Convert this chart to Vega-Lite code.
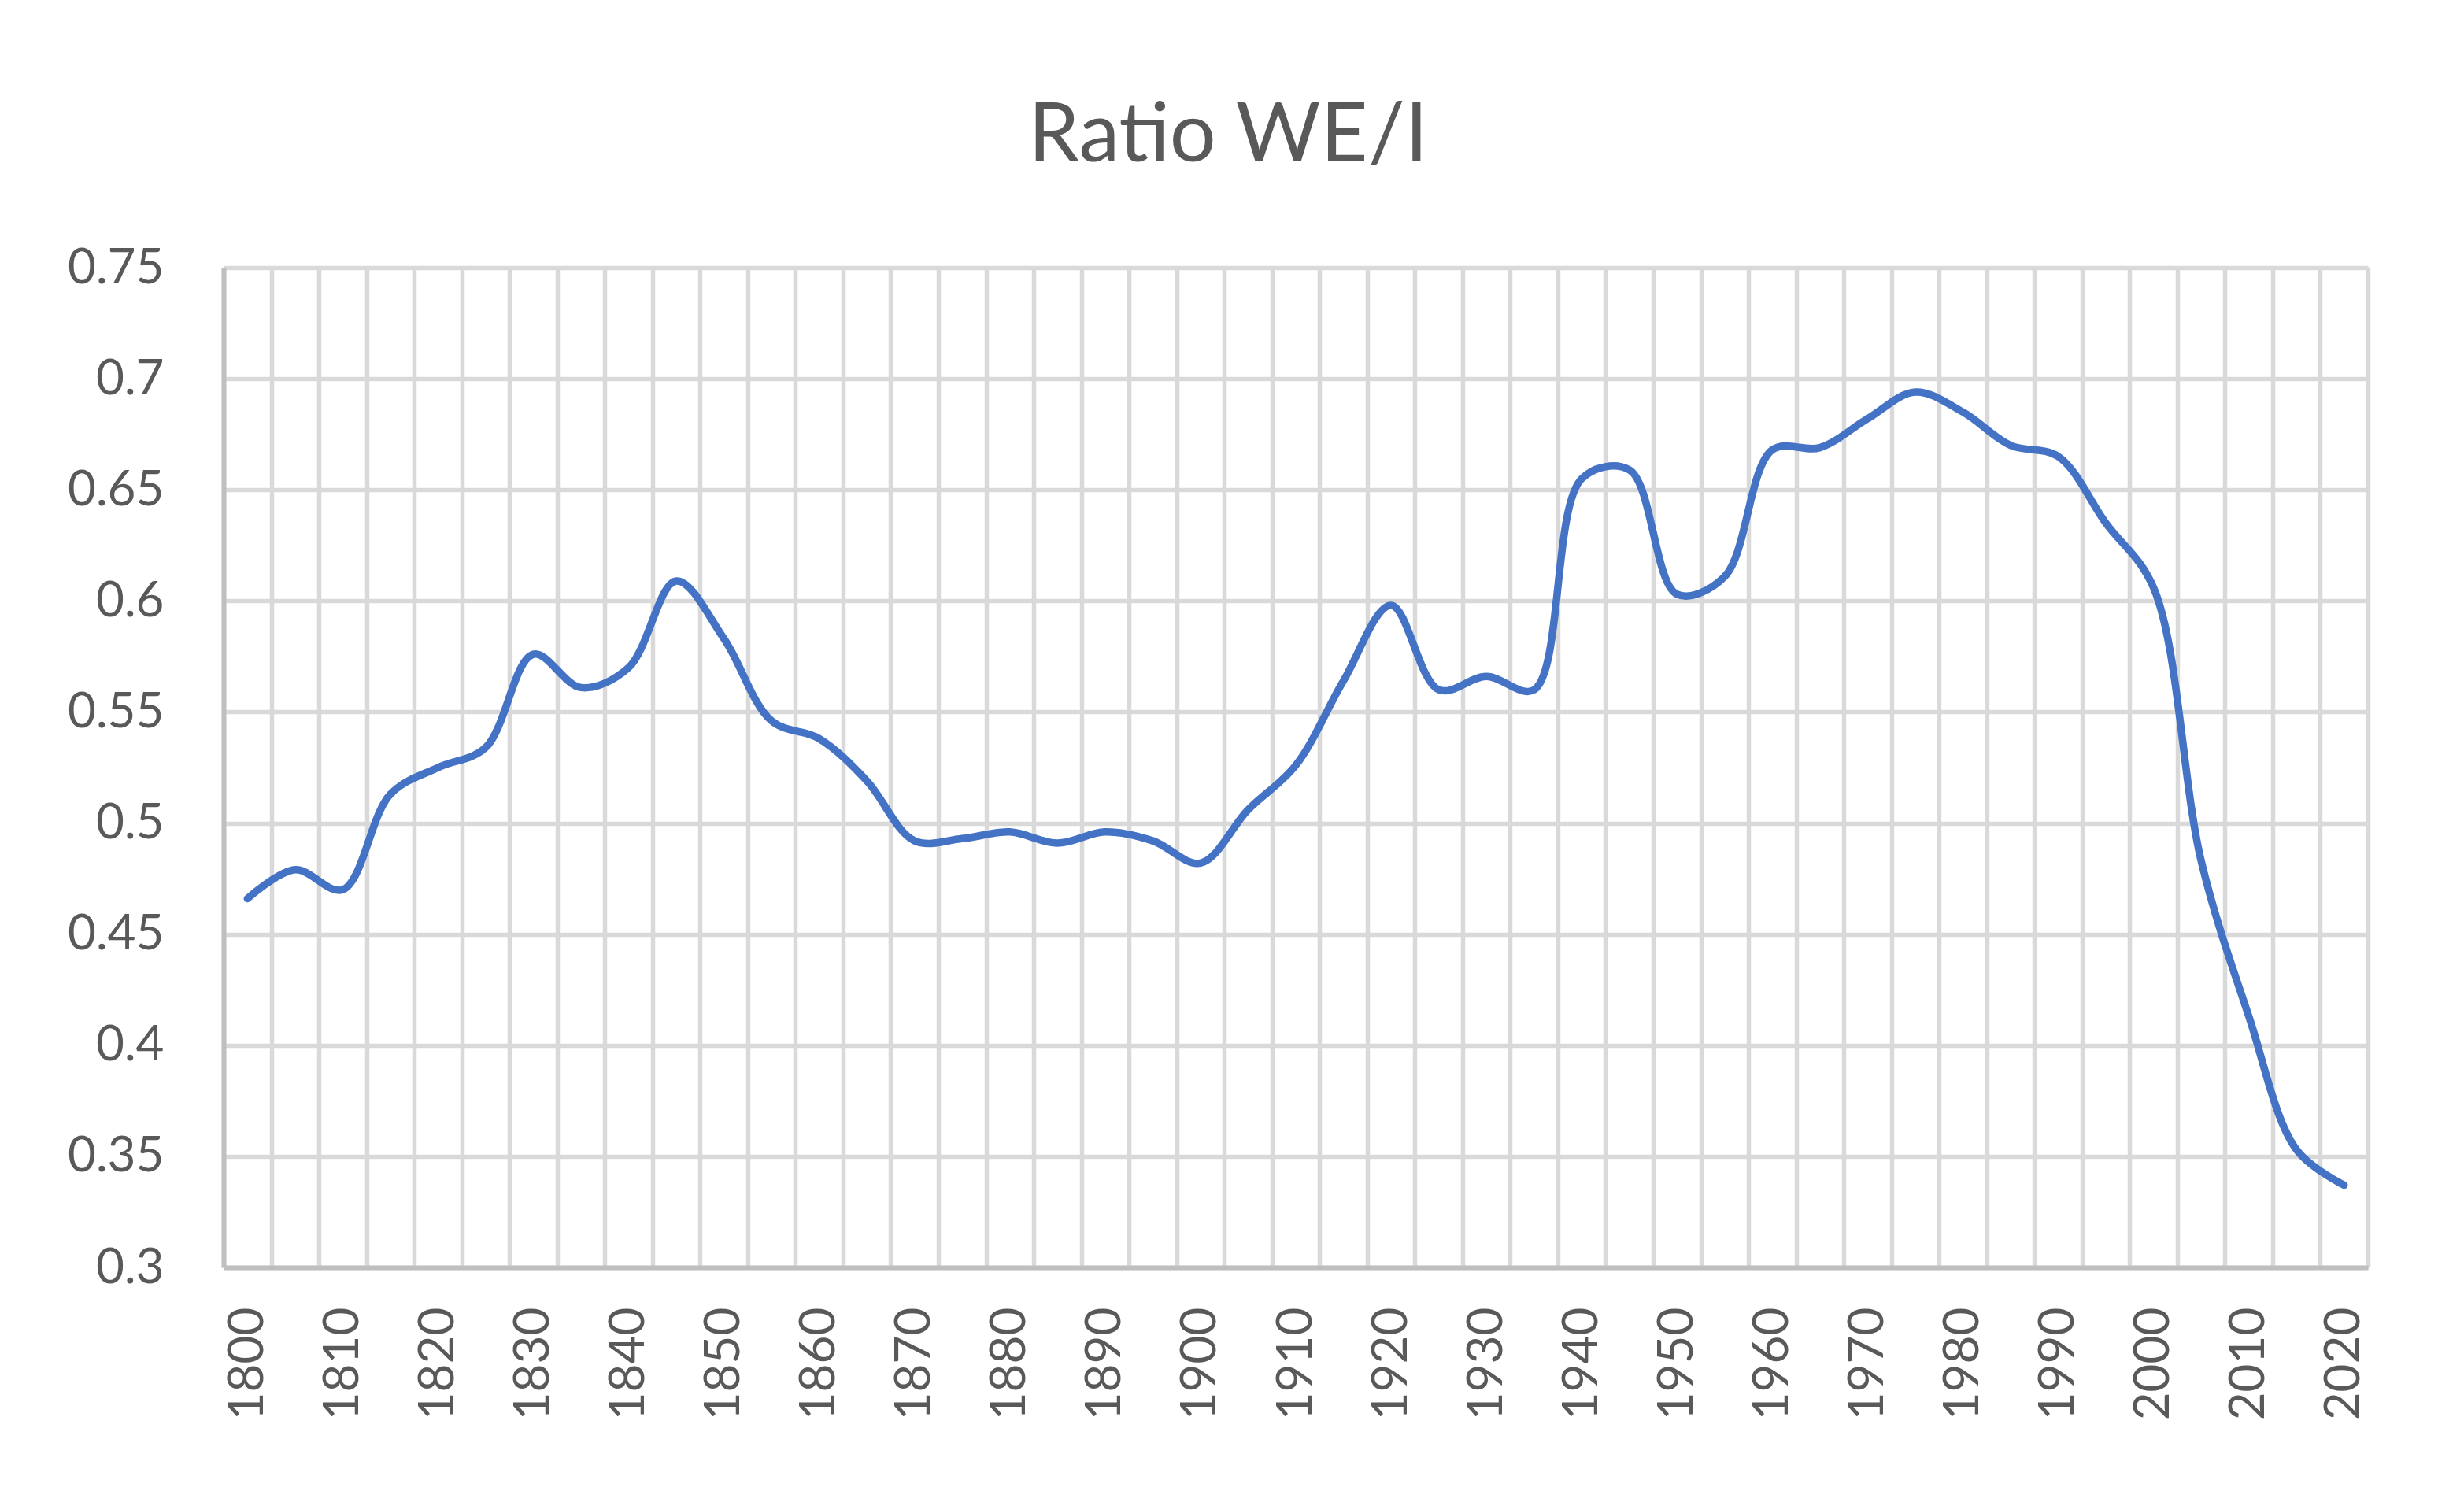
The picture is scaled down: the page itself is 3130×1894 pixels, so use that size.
{
  "$schema": "https://vega.github.io/schema/vega-lite/v6.json",
  "width": 2724,
  "height": 1270,
  "autosize": {"type": "none"},
  "padding": {"left": 284, "top": 340, "right": 122, "bottom": 284},
  "background": "white",
  "title": {
    "text": "Ratio WE/I",
    "font": "Lato",
    "fontSize": 104,
    "fontWeight": "normal",
    "color": "#595959",
    "anchor": "middle",
    "frame": "group",
    "dx": -86,
    "baseline": "alphabetic",
    "offset": 0
  },
  "config": {
    "view": {"stroke": null},
    "axis": {"labelFont": "Lato", "labelColor": "#595959", "titleFont": "Lato"}
  },
  "data": {
    "values": [
      {"year": 1800, "ratio": 0.466},
      {"year": 1805, "ratio": 0.479},
      {"year": 1810, "ratio": 0.470},
      {"year": 1815, "ratio": 0.513},
      {"year": 1820, "ratio": 0.525},
      {"year": 1825, "ratio": 0.534},
      {"year": 1830, "ratio": 0.576},
      {"year": 1835, "ratio": 0.561},
      {"year": 1840, "ratio": 0.570},
      {"year": 1845, "ratio": 0.609},
      {"year": 1850, "ratio": 0.583},
      {"year": 1855, "ratio": 0.546},
      {"year": 1860, "ratio": 0.538},
      {"year": 1865, "ratio": 0.519},
      {"year": 1870, "ratio": 0.492},
      {"year": 1875, "ratio": 0.493},
      {"year": 1880, "ratio": 0.496},
      {"year": 1885, "ratio": 0.491},
      {"year": 1890, "ratio": 0.496},
      {"year": 1895, "ratio": 0.492},
      {"year": 1900, "ratio": 0.482},
      {"year": 1905, "ratio": 0.506},
      {"year": 1910, "ratio": 0.526},
      {"year": 1915, "ratio": 0.564},
      {"year": 1920, "ratio": 0.598},
      {"year": 1925, "ratio": 0.560},
      {"year": 1930, "ratio": 0.566},
      {"year": 1935, "ratio": 0.560},
      {"year": 1940, "ratio": 0.655},
      {"year": 1945, "ratio": 0.659},
      {"year": 1950, "ratio": 0.603},
      {"year": 1955, "ratio": 0.611},
      {"year": 1960, "ratio": 0.668},
      {"year": 1965, "ratio": 0.669},
      {"year": 1970, "ratio": 0.682},
      {"year": 1975, "ratio": 0.694},
      {"year": 1980, "ratio": 0.685},
      {"year": 1985, "ratio": 0.670},
      {"year": 1990, "ratio": 0.665},
      {"year": 1995, "ratio": 0.635},
      {"year": 2000, "ratio": 0.606},
      {"year": 2005, "ratio": 0.483},
      {"year": 2010, "ratio": 0.413},
      {"year": 2015, "ratio": 0.353},
      {"year": 2020, "ratio": 0.337}
    ]
  },
  "mark": {
    "type": "line",
    "interpolate": "catmull-rom",
    "color": "#4472C4",
    "strokeWidth": 9.5,
    "strokeCap": "round",
    "strokeJoin": "round"
  },
  "encoding": {
    "x": {
      "field": "year",
      "type": "quantitative",
      "scale": {"domain": [1797.5, 2022.5], "nice": false, "zero": false},
      "axis": {
        "title": null,
        "values": [1797.5, 1802.5, 1807.5, 1812.5, 1817.5, 1822.5, 1827.5, 1832.5, 1837.5, 1842.5, 1847.5, 1852.5, 1857.5, 1862.5, 1867.5, 1872.5, 1877.5, 1882.5, 1887.5, 1892.5, 1897.5, 1902.5, 1907.5, 1912.5, 1917.5, 1922.5, 1927.5, 1932.5, 1937.5, 1942.5, 1947.5, 1952.5, 1957.5, 1962.5, 1967.5, 1972.5, 1977.5, 1982.5, 1987.5, 1992.5, 1997.5, 2002.5, 2007.5, 2012.5, 2017.5, 2022.5, 1800, 1810, 1820, 1830, 1840, 1850, 1860, 1870, 1880, 1890, 1900, 1910, 1920, 1930, 1940, 1950, 1960, 1970, 1980, 1990, 2000, 2010, 2020],
        "labelExpr": "datum.value % 10 == 0 ? format(datum.value, 'd') : ''",
        "labelAngle": -90,
        "labelAlign": "right",
        "labelBaseline": "middle",
        "labelFontSize": 62,
        "labelPadding": 50,
        "labelOverlap": false,
        "labelFlush": false,
        "ticks": false,
        "grid": true,
        "gridColor": "#d9d9d9",
        "gridWidth": 5.5,
        "gridOpacity": {"condition": {"test": "datum.value % 5 != 0", "value": 1}, "value": 0},
        "domainColor": "#bfbfbf",
        "domainWidth": 6
      }
    },
    "y": {
      "field": "ratio",
      "type": "quantitative",
      "scale": {"domain": [0.3, 0.75], "nice": false, "zero": false},
      "axis": {
        "title": null,
        "values": [0.3, 0.35, 0.4, 0.45, 0.5, 0.55, 0.6, 0.65, 0.7, 0.75],
        "format": "~g",
        "labelFontSize": 62,
        "labelPadding": 76,
        "labelFlush": false,
        "labelOverlap": false,
        "ticks": false,
        "grid": true,
        "gridColor": "#d9d9d9",
        "gridWidth": 5.5,
        "domainColor": "#bfbfbf",
        "domainWidth": 6
      }
    }
  }
}
